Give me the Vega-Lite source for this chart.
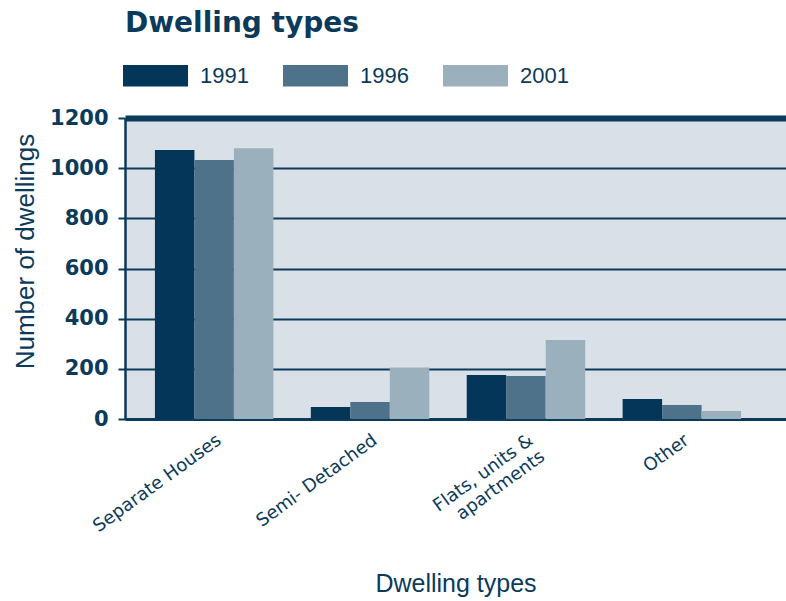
{
  "$schema": "https://vega.github.io/schema/vega-lite/v6.json",
  "width": 661,
  "height": 301,
  "autosize": {"type": "none"},
  "padding": {"left": 125, "top": 118, "right": 0, "bottom": 182},
  "background": "#ffffff",
  "title": {
    "text": "Dwelling types",
    "anchor": "start",
    "frame": "group",
    "font": "DejaVu Sans",
    "fontWeight": "bold",
    "fontSize": 28,
    "color": "#0b3a5b",
    "offset": 5
  },
  "data": {
    "values": [
      {"type": "Separate Houses", "year": "1991", "count": 1072},
      {"type": "Separate Houses", "year": "1996", "count": 1033},
      {"type": "Separate Houses", "year": "2001", "count": 1079},
      {"type": "Semi- Detached", "year": "1991", "count": 48},
      {"type": "Semi- Detached", "year": "1996", "count": 68},
      {"type": "Semi- Detached", "year": "2001", "count": 205},
      {"type": "Flats, units & apartments", "year": "1991", "count": 175},
      {"type": "Flats, units & apartments", "year": "1996", "count": 171},
      {"type": "Flats, units & apartments", "year": "2001", "count": 315},
      {"type": "Other", "year": "1991", "count": 80},
      {"type": "Other", "year": "1996", "count": 56},
      {"type": "Other", "year": "2001", "count": 32}
    ]
  },
  "mark": {"type": "bar"},
  "encoding": {
    "x": {
      "field": "type",
      "type": "nominal",
      "sort": null,
      "scale": {"paddingInner": 0.24, "paddingOuter": 0.24, "align": 0.4},
      "axis": {
        "title": "Dwelling types",
        "titleFont": "Liberation Sans",
        "titleFontWeight": "normal",
        "titleFontSize": 25,
        "titleColor": "#0b3a5b",
        "titleBaseline": "top",
        "titleY": 152,
        "labelAngle": -36,
        "labelFont": "DejaVu Sans",
        "labelFontSize": 18,
        "labelColor": "#0b3a5b",
        "labelPadding": 12,
        "labelLineHeight": 20,
        "labelExpr": "datum.label == 'Flats, units & apartments' ? ['Flats, units &', 'apartments'] : datum.label",
        "ticks": false,
        "domainColor": "#0b3a5b",
        "domainWidth": 3
      }
    },
    "xOffset": {"field": "year", "type": "nominal", "scale": {"paddingInner": 0, "paddingOuter": 0}},
    "y": {
      "field": "count",
      "type": "quantitative",
      "scale": {"domain": [0, 1200], "nice": false},
      "axis": {
        "title": "Number of dwellings",
        "titleFont": "Liberation Sans",
        "titleFontWeight": "normal",
        "titleFontSize": 26,
        "titleColor": "#0b3a5b",
        "titlePadding": 11,
        "titleY": 133,
        "values": [0, 200, 400, 600, 800, 1000, 1200],
        "format": "d",
        "labelFont": "DejaVu Sans",
        "labelFontWeight": "bold",
        "labelFontSize": 21,
        "labelColor": "#0b3a5b",
        "labelPadding": 10,
        "tickSize": 7,
        "tickWidth": 2,
        "tickColor": "#0b3a5b",
        "grid": true,
        "gridColor": "#0b3a5b",
        "gridOpacity": 1,
        "gridWidth": {"condition": {"test": "datum.value === 1200", "value": 6}, "value": 2},
        "domainColor": "#0b3a5b",
        "domainWidth": 2.5
      }
    },
    "color": {
      "field": "year",
      "type": "nominal",
      "scale": {"domain": ["1991", "1996", "2001"], "range": ["#033659", "#4e728a", "#9ab0bd"]},
      "legend": {
        "title": null,
        "orient": "none",
        "legendX": -2,
        "legendY": -75,
        "direction": "horizontal",
        "symbolType": "M-1,-0.33H1V0.33H-1Z",
        "symbolSize": 4225,
        "symbolStrokeWidth": 0,
        "symbolOpacity": 1,
        "labelFont": "Liberation Sans",
        "labelFontSize": 22,
        "labelColor": "#0b3a5b",
        "labelOffset": 12,
        "columnPadding": 34
      }
    }
  },
  "config": {
    "view": {"fill": "#d9e0e7", "stroke": null}
  }
}
